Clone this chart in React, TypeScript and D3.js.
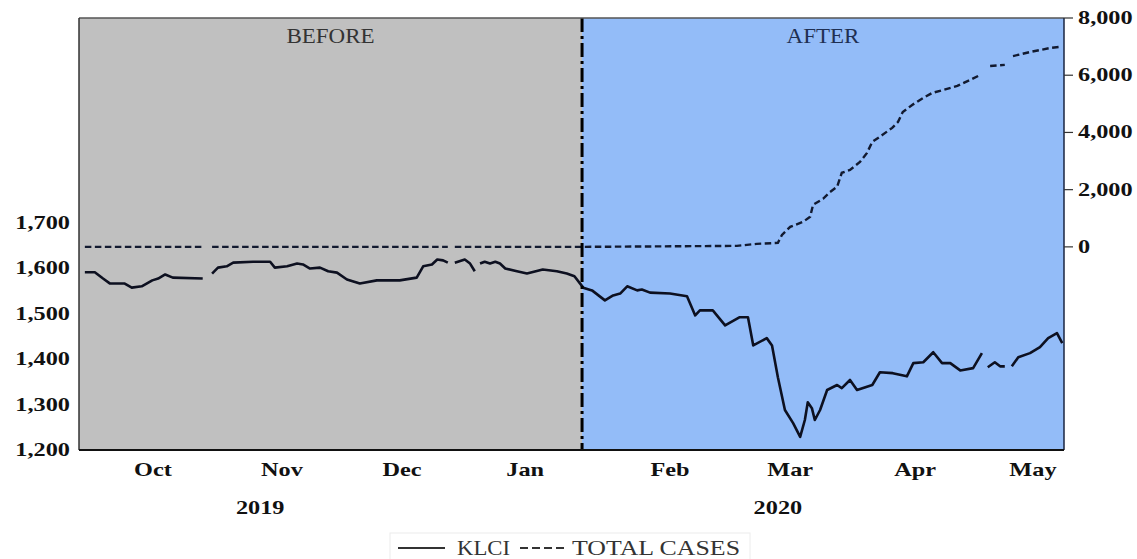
import * as d3 from 'd3';

const W = 1137;
const H = 559;
const L = 79, R = 1064, T = 18, B = 450;

// observation index (trading-day position) and KLCI close, null = missing day
const klciT = [1.0, 2.7, 4.1, 5.3, 7.8, 9.0, 10.7, 12.5, 13.5, 14.7, 16.0, 21.1, 22.0, 22.7, 23.7, 25.2, 26.3, 29.7, 32.6, 33.4, 35.5, 37.2, 38.2, 39.4, 41.1, 42.5, 44.0, 45.7, 47.9, 50.8, 54.7, 57.6, 58.7, 60.2, 61.1, 62.1, 62.9, 63.5, 64.1, 65.8, 66.7, 67.5, 68.0, 68.4, 69.2, 70.1, 71.0, 71.8, 72.7, 74.7, 76.4, 79.1, 81.5, 83.2, 84.5, 86.0, 87.5, 89.7, 91.1, 92.3, 93.5, 95.2, 96.0, 97.4, 100.8, 103.7, 105.1, 105.9, 108.1, 110.2, 112.7, 114.1, 115.0, 117.3, 118.2, 119.2, 120.4, 121.8, 123.0, 123.8, 124.3, 125.0, 125.5, 126.4, 127.6, 129.3, 130.1, 131.5, 132.7, 135.3, 136.6, 138.8, 141.2, 142.3, 144.0, 145.7, 147.2, 148.6, 150.3, 152.5, 154.0, 154.5, 155.0, 156.2, 157.1, 157.9, 158.5, 159.1, 160.2, 162.2, 163.9, 165.3, 166.8, 167.7];
const klciV = [1591, 1591, 1577, 1566, 1566, 1557, 1560, 1573, 1577, 1586, 1579, 1577, null, 1588, 1601, 1604, 1612, 1614, 1614, 1601, 1604, 1610, 1608, 1599, 1601, 1593, 1590, 1575, 1566, 1573, 1573, 1579, 1604, 1608, 1619, 1617, 1612, null, 1612, 1619, 1610, 1593, null, 1610, 1614, 1610, 1614, 1610, 1599, 1593, 1588, 1597, 1593, 1588, 1582, 1557, 1551, 1529, 1540, 1544, 1560, 1551, 1553, 1546, 1544, 1538, 1496, 1507, 1507, 1474, 1492, 1492, 1430, 1446, 1430, 1360, 1288, 1259, 1229, 1266, 1305, 1292, 1266, 1288, 1332, 1343, 1336, 1354, 1332, 1343, 1371, 1369, 1362, 1391, 1393, 1415, 1391, 1391, 1375, 1380, 1413, null, 1382, 1393, 1384, 1384, null, 1384, 1404, 1413, 1426, 1446, 1457, 1435];

const casesT = [1.0, 21.1, 22.0, 22.7, 62.9, 63.5, 64.1, 86.0, 112.2, 115.6, 119.2, 119.9, 121.3, 123.5, 124.7, 125.2, 126.9, 128.1, 129.3, 130.1, 131.5, 133.2, 134.4, 135.3, 137.0, 138.7, 139.7, 140.5, 142.1, 144.0, 145.5, 147.4, 149.8, 152.0, 153.7, 154.5, 155.4, 157.9, 158.5, 159.3, 162.2, 165.6, 167.3];
const casesV = [0, 0, null, 0, 0, null, 0, 0, 35, 105, 140, 420, 700, 875, 1050, 1470, 1680, 1920, 2100, 2590, 2690, 2970, 3285, 3670, 3910, 4160, 4370, 4715, 4960, 5205, 5380, 5485, 5625, 5835, 6010, null, 6320, 6360, null, 6670, 6810, 6950, 6990];

const monthLabels = ['Oct', 'Nov', 'Dec', 'Jan', 'Feb', 'Mar', 'Apr', 'May'];
const monthPos = [12.6, 34.6, 55.1, 76.1, 100.8, 121.3, 142.6, 162.7];
const yearLabels = ['2019', '2020'];
const yearPos = [30.9, 119.2];
const klciTicks = [1200, 1300, 1400, 1500, 1600, 1700];
const casesTicks = [0, 2000, 4000, 6000, 8000];
const eventPos = 85.8;

const x = d3.scaleLinear([0, 168], [L, R]);
const yL = d3.scaleLinear([1200, 2150], [B, T]);
const yR = d3.scaleLinear([-7100, 8000], [B, T]);

const fmt = d3.format(',');
const serif = "'Liberation Serif', 'Times New Roman', serif";

type P = [number, number | null];
const klci: P[] = klciT.map((t, i) => [t, klciV[i]]);
const cases: P[] = casesT.map((t, i) => [t, casesV[i]]);

const klciLine = d3.line<P>().defined(d => d[1] != null).x(d => x(d[0])).y(d => yL(d[1] as number));
const casesLine = d3.line<P>().defined(d => d[1] != null).x(d => x(d[0])).y(d => yR(d[1] as number));

function Lbl({ x: tx, y: ty, anchor, children }: { x: number; y: number; anchor: string; children: string }) {
  return (
    <text transform={`translate(${tx},${ty}) scale(1.35,1)`} textAnchor={anchor}
      fontFamily={serif} fontWeight="bold" fontSize={18} fill="#111">{children}</text>
  );
}

export default function App() {
  const xe = x(eventPos);
  return (
    <div style={{ position: 'absolute', left: 0, top: 0 }}>
      <svg width={W} height={H} style={{ display: 'block', background: '#fff' }}>
        <rect x={L} y={T} width={xe - L} height={B - T} fill="#c0c0c0" />
        <rect x={xe} y={T} width={R - xe} height={B - T} fill="#93bcf8" />

        <text transform={`translate(${(L + xe) / 2},43) scale(1.15,1)`} textAnchor="middle"
          fontFamily={serif} fontSize={20} fill="#333">BEFORE</text>
        <text transform={`translate(${(xe + R) / 2},43) scale(1.15,1)`} textAnchor="middle"
          fontFamily={serif} fontSize={20} fill="#1f2f52">AFTER</text>

        <path d={casesLine(cases) ?? ''} fill="none" stroke="#121a30" strokeWidth={2.4} strokeDasharray="6.5,3.5" />
        <path d={klciLine(klci) ?? ''} fill="none" stroke="#0d1020" strokeWidth={2.6} strokeLinejoin="round" />

        <line x1={xe} x2={xe} y1={T} y2={B} stroke="#000" strokeWidth={3} strokeDasharray="14,4,3,4" />

        {/* frame */}
        <line x1={L} x2={R} y1={T} y2={T} stroke="#555" strokeWidth={1.5} />
        <line x1={L} x2={L} y1={T} y2={B} stroke="#333" strokeWidth={1.5} />
        <line x1={R} x2={R} y1={T} y2={B} stroke="#1a2540" strokeWidth={1.5} />
        <line x1={L} x2={R} y1={B} y2={B} stroke="#111" strokeWidth={1.8} />

        {klciTicks.map(v => (
          <Lbl key={v} x={70} y={yL(v) + 6} anchor="end">{fmt(v)}</Lbl>
        ))}
        {casesTicks.map(v => (
          <g key={v}>
            <line x1={R} x2={R + 9} y1={yR(v)} y2={yR(v)} stroke="#333" strokeWidth={1.2} />
            <Lbl x={1078} y={yR(v) + 6} anchor="start">{fmt(v)}</Lbl>
          </g>
        ))}
        {monthLabels.map((m, i) => (
          <Lbl key={m} x={x(monthPos[i])} y={476} anchor="middle">{m}</Lbl>
        ))}
        {yearLabels.map((yl, i) => (
          <Lbl key={yl} x={x(yearPos[i])} y={514} anchor="middle">{yl}</Lbl>
        ))}

        {/* legend */}
        <rect x={390} y={533} width={360} height={40} fill="none" stroke="#ececec" strokeWidth={1} />
        <line x1={398} x2={445} y1={548} y2={548} stroke="#333" strokeWidth={2} />
        <text x={457} y={555} textLength={53} lengthAdjust="spacingAndGlyphs"
          fontFamily={serif} fontSize={20} fill="#333">KLCI</text>
        <line x1={520} x2={565} y1={548} y2={548} stroke="#333" strokeWidth={2} strokeDasharray="8,4" />
        <text x={572} y={555} textLength={168} lengthAdjust="spacingAndGlyphs"
          fontFamily={serif} fontSize={20} fill="#333">TOTAL CASES</text>
      </svg>
    </div>
  );
}
